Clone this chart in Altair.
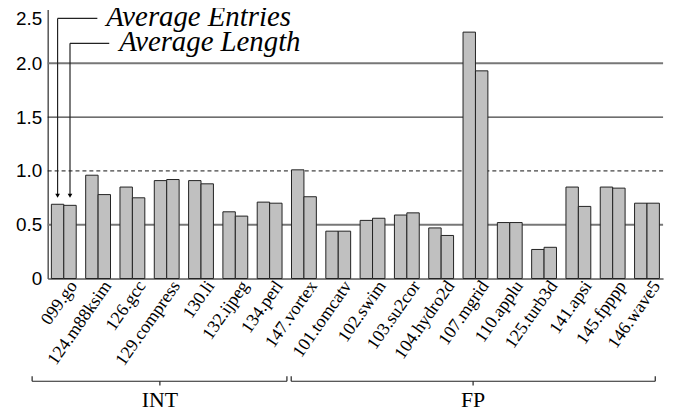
import altair as alt
import pandas as pd

benchmarks = ["099.go", "124.m88ksim", "126.gcc", "129.compress", "130.li",
              "132.ijpeg", "134.perl", "147.vortex", "101.tomcatv", "102.swim",
              "103.su2cor", "104.hydro2d", "107.mgrid", "110.applu", "125.turb3d",
              "141.apsi", "145.fpppp", "146.wave5"]
avg_entries = [0.69, 0.96, 0.85, 0.91, 0.91, 0.62, 0.71, 1.01, 0.44, 0.54,
               0.59, 0.47, 2.29, 0.52, 0.27, 0.85, 0.85, 0.70]
avg_length = [0.68, 0.78, 0.75, 0.92, 0.88, 0.58, 0.70, 0.76, 0.44, 0.56,
              0.61, 0.40, 1.93, 0.52, 0.29, 0.67, 0.84, 0.70]
series_names = ["Average Entries", "Average Length"]
y_ticks = [0, 0.5, 1.0, 1.5, 2.0, 2.5]

# gridlines
grid_solid_vals = [0.5, 1.5, 2.0]
grid_solid_colors = ["#777777", "#111111", "#777777"]
grid_solid_widths = [2, 1, 2]
grid_dashed_vals = [1.0]

# group brackets (in units of category steps)
groups = ["INT", "FP"]
group_start = [-0.454, 7.098]
group_end = [6.973, 17.71]
group_mid = [3.27, 12.40]
bracket_y = -0.955
cap_y = -0.909
mid_tick_y = -0.995
group_label_y = -1.19

# legend annotation (group units / data units)
ann_bar_x = [0.288, 0.650]
ann_top_y = [2.417, 2.186]
ann_line_end_x = [1.447, 1.794]
ann_arrow_y = [0.77, 0.77]
ann_text_x = [1.71, 2.083]
ann_text_y = [2.343, 2.113]

SERIF = "'Liberation Serif', 'Times New Roman', Times, serif"
SANS = "'Liberation Sans', Arial, Helvetica, sans-serif"

W, H = 620, 271
STEPS = 18 - 0.276 + 2 * 0.107

df = pd.DataFrame({
    "bench": benchmarks * 2,
    "series": [series_names[0]] * len(benchmarks) + [series_names[1]] * len(benchmarks),
    "value": avg_entries + avg_length,
})

y_scale = alt.Scale(domain=[0, 2.5], nice=False, zero=True)
lin_x = alt.Scale(domain=[0, STEPS], nice=False, zero=False)

grid_df = pd.DataFrame({"v": grid_solid_vals, "c": grid_solid_colors, "w": grid_solid_widths})
grid = alt.Chart(grid_df).mark_rule().encode(
    y=alt.Y("v:Q", scale=y_scale),
    color=alt.Color("c:N", scale=None),
    strokeWidth=alt.StrokeWidth("w:Q", scale=None),
)
grid_dash = alt.Chart(pd.DataFrame({"v": grid_dashed_vals})).mark_rule(
    color="#111111", strokeDash=[4, 3], strokeWidth=1
).encode(y=alt.Y("v:Q", scale=y_scale))

bars = alt.Chart(df).mark_bar(fill="#c0c0c0", stroke="#222222", strokeWidth=1).encode(
    x=alt.X("bench:N", sort=benchmarks,
            scale=alt.Scale(domain=benchmarks, paddingInner=0.276, paddingOuter=0.107),
            axis=alt.Axis(title=None, labelAngle=-55, labelAlign="right",
                          labelBaseline="middle", labelFont=SERIF,
                          labelFontSize=18, labelColor="black", ticks=False,
                          domainColor="black", domainWidth=1, labelPadding=4,
                          labelOffset=10)),
    xOffset=alt.XOffset("series:N", sort=series_names),
    y=alt.Y("value:Q", scale=y_scale,
            axis=alt.Axis(values=y_ticks, title=None, grid=False, ticks=False,
                          labelExpr="datum.value == 0 ? '0' : format(datum.value, '.1f')",
                          labelBaseline={"condition": {"test": "datum.value >= 2.5", "value": "top"},
                                         "value": "middle"},
                          domainColor="#555555", domainWidth=1.5,
                          labelFont=SANS, labelFontSize=19,
                          labelColor="black", labelPadding=6, labelFlush=False)),
)

# annotation lines
seg_rows = []
for i in range(2):
    seg_rows.append({"x": ann_bar_x[i], "x2": ann_bar_x[i], "y": ann_top_y[i], "y2": ann_arrow_y[i]})
    seg_rows.append({"x": ann_bar_x[i], "x2": ann_line_end_x[i], "y": ann_top_y[i], "y2": ann_top_y[i]})
for i in range(2):
    seg_rows.append({"x": group_start[i], "x2": group_end[i], "y": bracket_y, "y2": bracket_y})
    seg_rows.append({"x": group_start[i], "x2": group_start[i], "y": bracket_y, "y2": cap_y})
    seg_rows.append({"x": group_end[i], "x2": group_end[i], "y": bracket_y, "y2": cap_y})
    seg_rows.append({"x": group_mid[i], "x2": group_mid[i], "y": bracket_y, "y2": mid_tick_y})
seg_df = pd.DataFrame(seg_rows)

segs = alt.Chart(seg_df).mark_rule(color="#222222", strokeWidth=1.2, clip=False).encode(
    x=alt.X("x:Q", scale=lin_x, axis=None),
    x2="x2:Q",
    y=alt.Y("y:Q", scale=y_scale),
    y2="y2:Q",
)

arrows = alt.Chart(pd.DataFrame({"x": ann_bar_x, "y": ann_arrow_y})).mark_point(
    shape="triangle-down", filled=True, color="black", size=22, opacity=1
).encode(
    x=alt.X("x:Q", scale=lin_x, axis=None),
    y=alt.Y("y:Q", scale=y_scale),
)

ann_text = alt.Chart(pd.DataFrame({"x": ann_text_x, "y": ann_text_y, "t": series_names})).mark_text(
    font=SERIF, fontStyle="italic", fontSize=29, align="left",
    baseline="alphabetic", color="black"
).encode(
    x=alt.X("x:Q", scale=lin_x, axis=None),
    y=alt.Y("y:Q", scale=y_scale),
    text="t:N",
)

group_text = alt.Chart(pd.DataFrame({"x": group_mid, "y": [group_label_y] * 2, "t": groups})).mark_text(
    font=SERIF, fontSize=22, align="center", baseline="alphabetic", color="black"
).encode(
    x=alt.X("x:Q", scale=lin_x, axis=None),
    y=alt.Y("y:Q", scale=y_scale),
    text="t:N",
)

chart = alt.layer(grid, grid_dash, bars, segs, arrows, ann_text, group_text).resolve_scale(
    x="independent"
).properties(
    width=W, height=H, autosize="none",
    padding={"left": 40, "top": 0, "right": 10, "bottom": 138},
).configure_view(stroke=None)

chart.save("out.html", embed_options={"renderer": "svg", "actions": False})
